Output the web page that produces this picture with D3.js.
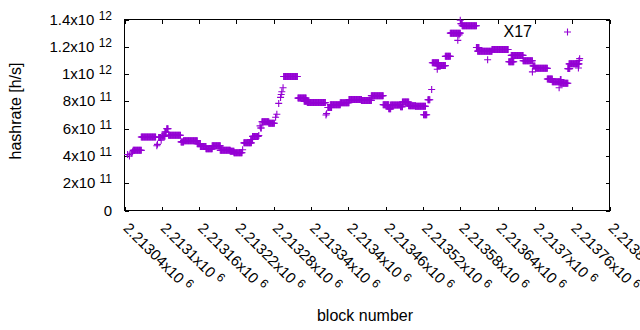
<!DOCTYPE html>
<html><head><meta charset="utf-8">
<script src="https://cdn.jsdelivr.net/npm/d3@7"></script>
<style>body{margin:0;background:#fff} svg{display:block} text{font-family:"Liberation Sans",Arial,sans-serif;fill:#000}</style>
</head><body><svg id="c" width="640" height="330"></svg>
<script>
const seriesName = "X17";
// runs of constant hashrate: first block, last block, value (h/s)
const runStart = [2213045,2213048,2213051,2213053,2213054,2213067,2213092,2213093,2213095,2213099,2213100,2213105,2213108,2213111,2213131,2213135,2213157,2213162,2213171,2213181,2213194,2213210,2213216,2213230,2213232,2213243,2213246,2213256,2213258,2213259,2213261,2213272,2213283,2213285,2213288,2213291,2213292,2213293,2213295,2213296,2213319,2213329,2213334,2213364,2213365,2213367,2213371,2213387,2213401,2213421,2213437,2213456,2213465,2213468,2213484,2213487,2213497,2213508,2213521,2213528,2213534,2213535,2213543,2213543,2213556,2213564,2213576,2213578,2213580,2213581,2213583,2213606,2213608,2213624,2213631,2213658,2213662,2213681,2213696,2213697,2213701,2213720,2213728,2213739,2213741,2213741,2213753,2213755,2213770,2213771,2213772];
const runEnd   = [2213045,2213048,2213051,2213053,2213067,2213090,2213092,2213093,2213098,2213099,2213105,2213107,2213110,2213130,2213135,2213157,2213162,2213171,2213181,2213194,2213210,2213216,2213229,2213230,2213244,2213246,2213255,2213256,2213258,2213260,2213272,2213281,2213283,2213285,2213288,2213291,2213292,2213293,2213295,2213318,2213332,2213334,2213363,2213364,2213365,2213373,2213387,2213401,2213421,2213437,2213456,2213465,2213468,2213484,2213487,2213497,2213508,2213524,2213526,2213531,2213534,2213545,2213543,2213556,2213564,2213580,2213576,2213578,2213580,2213583,2213606,2213610,2213631,2213624,2213657,2213666,2213681,2213696,2213696,2213700,2213720,2213728,2213741,2213739,2213742,2213753,2213756,2213771,2213770,2213771,2213772];
const runValue = [4.10e11,4.00e11,4.20e11,4.30e11,4.41e11,5.39e11,4.75e11,4.85e11,5.35e11,5.15e11,5.45e11,5.75e11,6.00e11,5.52e11,5.03e11,5.12e11,4.90e11,4.70e11,4.52e11,4.74e11,4.41e11,4.34e11,4.23e11,4.45e11,4.96e11,5.20e11,5.43e11,5.50e11,6.20e11,6.05e11,6.51e11,6.40e11,6.83e11,7.05e11,7.85e11,8.29e11,8.50e11,8.70e11,9.00e11,9.82e11,8.24e11,8.00e11,7.91e11,7.00e11,7.10e11,7.55e11,7.76e11,7.90e11,8.13e11,8.07e11,8.42e11,7.76e11,7.45e11,7.73e11,7.60e11,7.95e11,7.67e11,7.64e11,7.02e11,8.12e11,8.87e11,10.83e11,10.35e11,10.62e11,11.30e11,13.00e11,12.47e11,12.87e11,13.95e11,13.70e11,13.54e11,11.95e11,11.68e11,11.05e11,11.80e11,10.90e11,11.37e11,10.98e11,10.16e11,10.60e11,10.42e11,9.64e11,9.43e11,9.00e11,9.60e11,9.33e11,10.40e11,10.75e11,10.45e11,11.00e11,11.13e11];

const xTickValues = [2213040,2213100,2213160,2213220,2213280,2213340,2213400,2213460,2213520,2213580,2213640,2213700,2213760,2213820];
const xTickLabels = ["2.21304","2.2131","2.21316","2.21322","2.21328","2.21334","2.2134","2.21346","2.21352","2.21358","2.21364","2.2137","2.21376","2.21382"];
const xTickExponent = "6";
const yTickValues = [0,2e11,4e11,6e11,8e11,1e12,1.2e12,1.4e12];
const yTickMantissa = ["0","2","4","6","8","1","1.2","1.4"];
const yTickExponent = ["","11","11","11","11","12","12","12"];
const xTitle = "block number";
const yTitle = "hashrate [h/s]";

const points = [];
runStart.forEach((s, i) => { for (let b = s; b <= runEnd[i]; b++) points.push({block: b, value: runValue[i]}); });

const svg = d3.select("#c");
const L = 124.5, R = 609.5, T = 19.5, B = 210.5;
const x = d3.scaleLinear().domain([2213040, 2213820]).range([L, R]);
const y = d3.scaleLinear().domain([0, 1.4e12]).range([B, T]);
const color = "#9400d3";
const fs = 15, sup = 12;

function axisG(axis, tr) {
  const g = svg.append("g").attr("transform", tr).call(axis);
  g.select(".domain").remove();
  g.selectAll(".tick line").attr("stroke", "#000").attr("shape-rendering", "crispEdges");
  g.selectAll(".tick text").remove();
  return g;
}
axisG(d3.axisBottom(x).tickValues(xTickValues).tickSize(-4), `translate(0,${B})`);
axisG(d3.axisTop(x).tickValues(xTickValues).tickSize(-4), `translate(0,${T})`);
axisG(d3.axisLeft(y).tickValues(yTickValues).tickSize(-4), `translate(${L},0)`);
axisG(d3.axisRight(y).tickValues(yTickValues).tickSize(-4), `translate(${R},0)`);

svg.append("rect").attr("x", L).attr("y", T).attr("width", R - L).attr("height", B - T)
  .attr("fill", "none").attr("stroke", "#000").attr("stroke-width", 1).attr("shape-rendering", "crispEdges");

// y tick labels
yTickValues.forEach((v, i) => {
  const t = svg.append("text").attr("x", 112).attr("y", y(v) + 5).attr("text-anchor", "end").attr("font-size", fs);
  if (yTickExponent[i] === "") { t.text(yTickMantissa[i]); return; }
  t.append("tspan").text(yTickMantissa[i] + "x10 ");
  t.append("tspan").attr("dy", -5).attr("font-size", sup).text(yTickExponent[i]);
});

// x tick labels
xTickValues.forEach((v, i) => {
  const t = svg.append("text").attr("transform", `translate(${x(v) + 1.5},225.5) rotate(45)`)
    .attr("x", 0).attr("y", 5).attr("font-size", fs);
  t.append("tspan").text(xTickLabels[i] + "x10 ");
  t.append("tspan").attr("dy", -5).attr("font-size", sup).text(xTickExponent);
});

svg.append("text").attr("x", 365).attr("y", 321).attr("text-anchor", "middle").attr("font-size", 16).text(xTitle);
svg.append("text").attr("transform", "translate(21,111) rotate(-90)").attr("text-anchor", "middle").attr("font-size", 16).text(yTitle);

// points
const plus = "M-3.5,0H3.5M0,-3.5V3.5";
svg.append("g").selectAll("path").data(points).join("path")
  .attr("transform", d => `translate(${x(d.block)},${y(d.value)})`)
  .attr("d", plus).attr("fill", "none").attr("stroke", color).attr("stroke-width", 1.1);

// legend
svg.append("text").attr("x", 532).attr("y", 37).attr("text-anchor", "end").attr("font-size", 16).text(seriesName);
svg.append("path").attr("transform", "translate(567.5,32)").attr("d", plus).attr("fill", "none").attr("stroke", color).attr("stroke-width", 1.1);
</script></body></html>
